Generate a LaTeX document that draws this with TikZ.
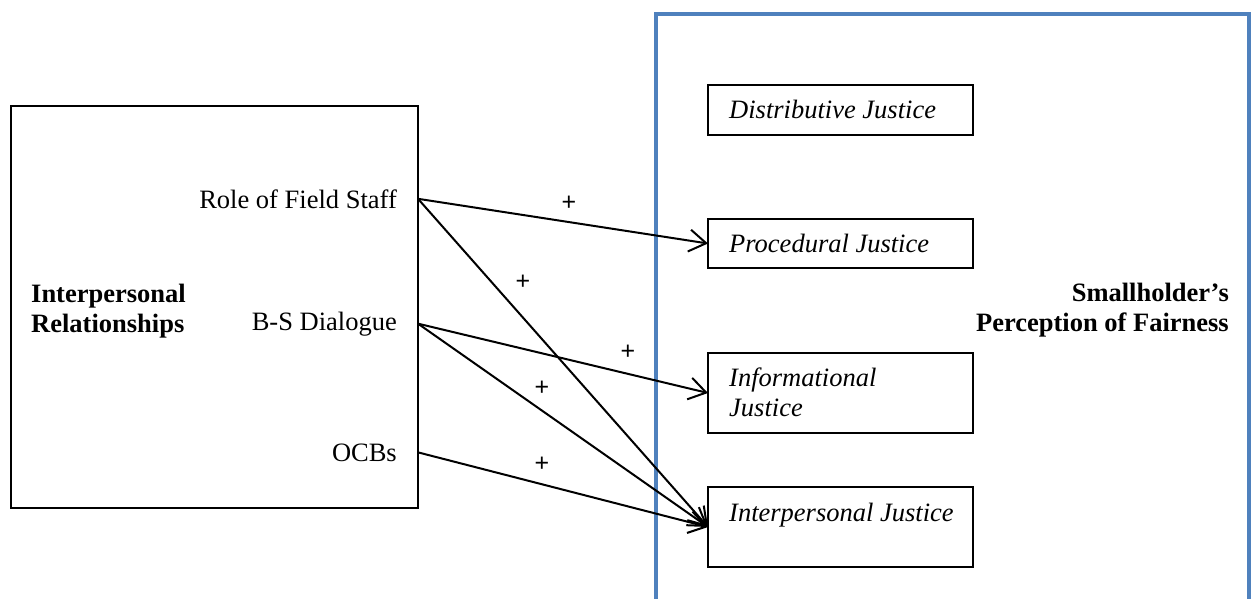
\documentclass[tikz,border=0pt]{standalone}
\usepackage{fontspec}
\setmainfont{Liberation Serif}
\newfontfamily\plusfont{Liberation Sans}
\usetikzlibrary{arrows.meta,calc}
\definecolor{frameblue}{RGB}{79,129,189}
\begin{document}
\begin{tikzpicture}[x=1pt,y=-1pt,
  every node/.style={font=\fontsize{26.5}{30}\selectfont},
  box/.style={draw,line width=2pt,inner sep=0pt,outer sep=0pt},
  jbox/.style={box,minimum width=265pt},
  jtext/.style={anchor=north west,inner sep=0pt,align=left,
    font=\fontsize{26.5}{30}\selectfont\itshape},
  item/.style={anchor=base east,inner sep=0pt},
  plus/.style={inner sep=0pt,font=\plusfont\fontsize{25}{28}\selectfont},
  link/.style={line width=2pt,-{Straight Barb[length=17pt,width=22pt]}}
]
\useasboundingbox (0,0) rectangle (1253,599);

% outer frame of the fairness construct (open at the bottom)
\draw[frameblue,line width=4pt] (656,605) -- (656,14) -- (1249,14) -- (1249,605);

% left construct
\node[box,minimum width=407pt,minimum height=402pt] (ir) at (214.5,307) {};
\node[anchor=north west,inner sep=0pt,align=left,
  font=\fontsize{26.5}{30}\selectfont\bfseries] (irlabel) at (31,284)
  {Interpersonal\\Relationships};
\node[item] (rfs) at (397,208) {Role of Field Staff};
\node[item] (bsd) at (397,330) {B-S Dialogue};
\node[item] (ocb) at (397,461) {OCBs};

\coordinate (rfsout) at (ir.east |- rfs.center);
\coordinate (bsdout) at (ir.east |- bsd.center);
\coordinate (ocbout) at (ir.east |- ocb.center);

% justice dimensions
\node[jbox,minimum height=50pt] (dj) at (840.5,110) {};
\node[jbox,minimum height=49pt] (pj) at (840.5,243.5) {};
\node[jbox,minimum height=80pt] (fj) at (840.5,393) {};
\node[jbox,minimum height=80pt] (ij) at (840.5,527) {};

\node[jtext] (djt) at ($(dj.north west)+(21,15)$) {Distributive Justice};
\node[jtext] (pjt) at ($(pj.north west)+(21,15)$) {Procedural Justice};
\node[jtext] (fjt) at ($(fj.north west)+(21,15)$) {Informational\\Justice};
\node[jtext] (ijt) at ($(ij.north west)+(21,16)$) {Interpersonal Justice};

\node[anchor=north east,inner sep=0pt,align=right,
  font=\fontsize{26.5}{30}\selectfont\bfseries] (spf) at (1229,283)
  {Smallholder’s\\Perception of Fairness};

% hypothesised links
\draw[link] (rfsout) -- (pj.west);
\draw[link] (rfsout) -- (ij.west);
\draw[link] (bsdout) -- (fj.west);
\draw[link] (bsdout) -- (ij.west);
\draw[link] (ocbout) -- (ij.west);

\node[plus] (p1) at (569,203) {+};
\node[plus] (p2) at (523,282) {+};
\node[plus] (p3) at (628,352) {+};
\node[plus] (p4) at (542,388) {+};
\node[plus] (p5) at (542,464) {+};
\end{tikzpicture}
\end{document}
